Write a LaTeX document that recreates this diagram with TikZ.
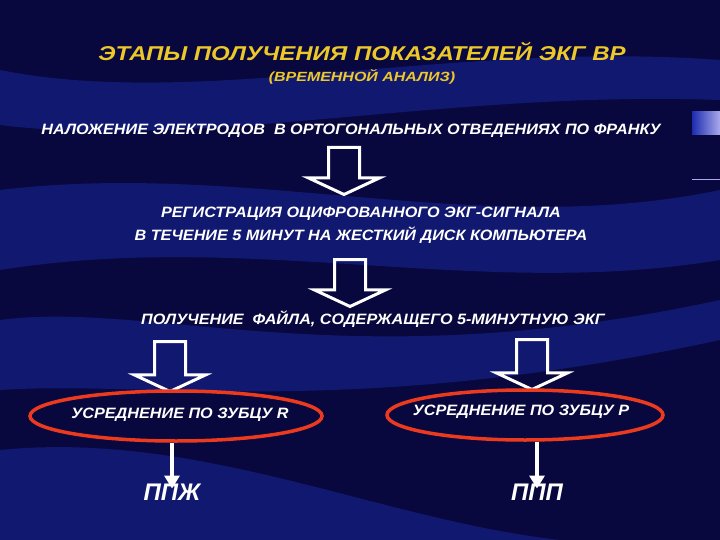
\documentclass[tikz,border=0pt]{standalone}
\usepackage{fontspec}
\setmainfont{Liberation Sans}
\newfontfamily\widefont[FakeStretch=1.08]{Liberation Sans}
\newfontfamily\ttlfont[FakeStretch=1.2]{Liberation Sans}
\usetikzlibrary{positioning,shapes.geometric,shapes.arrows,arrows.meta}
\definecolor{navy}{RGB}{8,8,62}
\definecolor{wave}{RGB}{28,44,175}
\definecolor{gold}{RGB}{236,200,42}
\definecolor{ovalred}{RGB}{236,58,30}
\definecolor{lilac}{RGB}{170,170,235}

\begin{document}
\begin{tikzpicture}[x=1pt,y=-1pt]
\tikzstyle{ttl}=[text=gold, font=\ttlfont\fontsize{20}{24}\selectfont\bfseries\itshape, inner sep=0pt]
\tikzstyle{sub}=[text=gold, font=\ttlfont\fontsize{13.3}{16}\selectfont\bfseries\itshape, inner sep=0pt]
\tikzstyle{txt}=[text=white, font=\widefont\fontsize{15}{23}\selectfont\bfseries\itshape, inner sep=0pt, align=center]
\tikzstyle{big}=[text=white, font=\fontsize{24}{28}\selectfont\bfseries\itshape, inner sep=0pt]
\tikzstyle{blk}=[single arrow, shape border rotate=270, draw=white, line width=3pt, inner sep=14pt, single arrow head extend=20pt, single arrow tip angle=130, anchor=tail]
\tikzstyle{ovl}=[ellipse, draw=ovalred, line width=3.5pt, inner sep=0pt]
\tikzstyle{sarr}=[draw=white, line width=4pt, -{Triangle[width=15pt,length=13pt]}]
\tikzstyle{band}=[fill=wave, opacity=.45]

% background
\useasboundingbox (0,0) rectangle (720,540);
\fill[navy] (0,0) rectangle (720,540);
\fill[band] (0,70) .. controls (200,110) and (450,40) .. (720,60) -- (720,100) .. controls (450,90) and (200,150) .. (0,125) -- cycle;
\fill[band] (0,190) .. controls (250,160) and (480,240) .. (720,190) -- (720,260) .. controls (480,300) and (250,230) .. (0,270) -- cycle;
\fill[band] (0,320) .. controls (150,300) and (350,380) .. (720,300) -- (720,340) .. controls (350,420) and (150,380) .. (0,390) -- cycle;
\fill[band] (0,450) .. controls (200,430) and (380,520) .. (560,540) -- (0,540) -- cycle;
\fill[left color=wave, right color=lilac] (692,112) rectangle (720,135);
\draw[lilac, line width=.8pt] (692,179) -- (720,179);

\node[ttl] (title) at (362,52) {ЭТАПЫ ПОЛУЧЕНИЯ ПОКАЗАТЕЛЕЙ ЭКГ ВР};
\node[sub] (subt) at (362,77) {(ВРЕМЕННОЙ АНАЛИЗ)};

\node[txt] (elec) at (351,131) {НАЛОЖЕНИЕ ЭЛЕКТРОДОВ \ В ОРТОГОНАЛЬНЫХ ОТВЕДЕНИЯХ ПО ФРАНКУ};
\node[txt] (reg) at (361,225) {РЕГИСТРАЦИЯ ОЦИФРОВАННОГО ЭКГ-СИГНАЛА\\В ТЕЧЕНИЕ 5 МИНУТ НА ЖЕСТКИЙ ДИСК КОМПЬЮТЕРА};
\node[txt] (file) at (373,319) {ПОЛУЧЕНИЕ \ ФАЙЛА, СОДЕРЖАЩЕГО 5-МИНУТНУЮ ЭКГ};

\node[blk, minimum height=47pt] (a1) at (344,146) {};
\node[blk, minimum height=47pt] (a2) at (350,258) {};
\node[blk, minimum height=50pt] (a3) at (170,340) {};
\node[blk, minimum height=50pt] (a4) at (532,338) {};

\node[ovl, minimum width=292pt, minimum height=50pt] (avgR) at (176,416) {};
\node[txt] (avgRt) at (180,415) {УСРЕДНЕНИЕ ПО ЗУБЦУ R};
\node[ovl, minimum width=276pt, minimum height=50pt] (avgP) at (525,415) {};
\node[txt] (avgPt) at (521,412) {УСРЕДНЕНИЕ ПО ЗУБЦУ Р};

\node[big] (ppzh) at (172,492) {ППЖ};
\node[big] (ppp) at (537,492) {ППП};

\draw[sarr] (avgR.south -| ppzh.north) -- ([yshift=-5pt]ppzh.north);
\draw[sarr] (avgP.south -| ppp.north) -- ([yshift=-5pt]ppp.north);
\end{tikzpicture}
\end{document}
